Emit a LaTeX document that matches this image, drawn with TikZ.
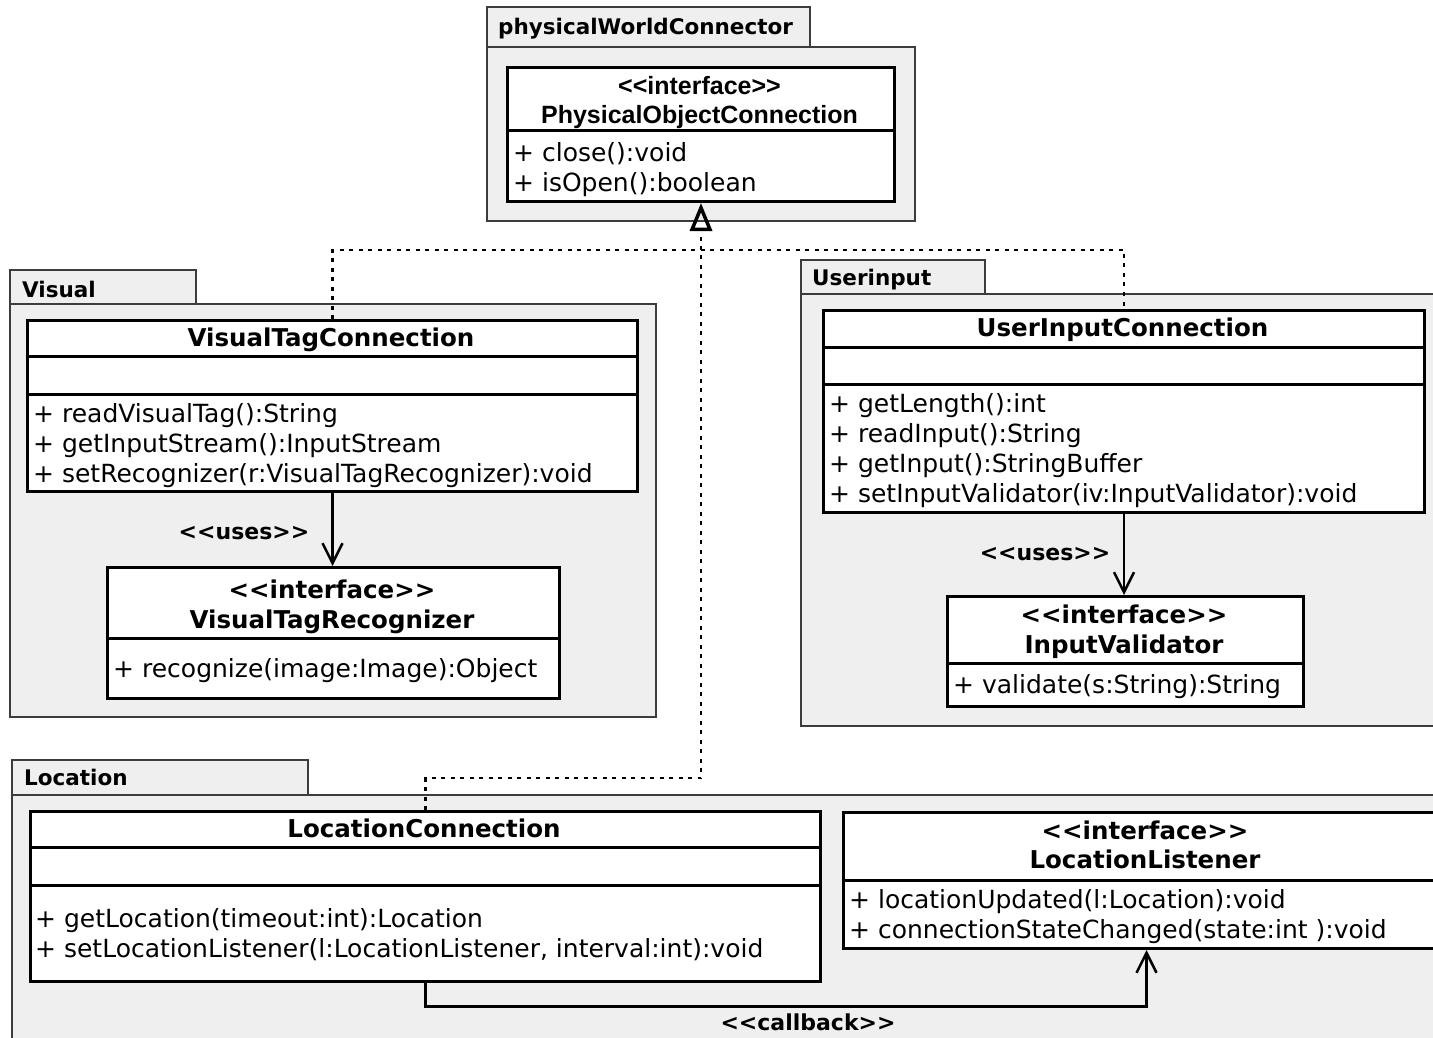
\documentclass[tikz,border=0pt]{standalone}
\usepackage{fontspec}
\setmainfont{DejaVu Sans}
\newfontfamily\headfont{Liberation Sans}
\usetikzlibrary{arrows.meta}

\definecolor{pkgfill}{RGB}{239,239,239}
\definecolor{pkgline}{RGB}{60,60,60}

% stereotype brackets, kept apart so no guillemet ligature forms
\newcommand\ster[1]{<\kern0pt<#1>\kern0pt>}

\begin{document}
\begin{tikzpicture}[x=1pt,y=-1pt,
  pkg/.style={draw=pkgline, fill=pkgfill, line width=2pt},
  pkgname/.style={anchor=mid west, inner sep=0pt, yshift=-3pt,
    font=\fontsize{21.5}{24}\selectfont\bfseries},
  classbox/.style={draw=black, fill=white, line width=3pt,
    anchor=north west, inner sep=0pt},
  divline/.style={draw=black, line width=3pt},
  member/.style={anchor=mid west, inner sep=0pt, yshift=-4pt,
    font=\fontsize{25}{28}\selectfont},
  cname/.style={anchor=mid, inner sep=0pt, yshift=-4pt,
    font=\fontsize{24.5}{28}\selectfont\bfseries},
  hname/.style={anchor=mid, inner sep=0pt, yshift=-4pt,
    font=\headfont\fontsize{25}{28}\selectfont\bfseries},
  lbl/.style={anchor=mid, inner sep=0pt, yshift=-4pt,
    font=\fontsize{22}{26}\selectfont\bfseries},
  realize/.style={draw=black, line width=2.8pt, dash pattern=on 4pt off 5.5pt},
  gentip/.style={-{Triangle[open, length=28pt, width=22pt, line width=3.5pt]}},
  depend/.style={draw=black, line width=2.5pt,
    -{Straight Barb[length=20pt, width=20pt, line width=2.5pt]}},
]
\useasboundingbox (0,0) rectangle (1433,1038);
\clip (0,0) rectangle (1433,1038);
\fill[white] (0,0) rectangle (1433,1038);

% ---------- packages ----------
\path[pkg] (487,7) rectangle (810,47);
\path[pkg] (487,47) rectangle (915,221);
\node[pkgname] (pwc-label) at (498,29) {physicalWorldConnector};

\path[pkg] (10,270) rectangle (196,304);
\path[pkg] (10,304) rectangle (656,717);
\node[pkgname] (vis-label) at (22,292) {Visual};

\path[pkg] (801,260) rectangle (985,294);
\path[pkg] (801,294) rectangle (1445,726);
\node[pkgname] (ui-label) at (812,280) {Userinput};

\path[pkg] (12,760) rectangle (308,795);
\path[pkg] (12,795) rectangle (1460,1060);
\node[pkgname] (loc-label) at (24,780) {Location};

% ---------- PhysicalObjectConnection ----------
\node[classbox, minimum width=387pt, minimum height=134pt] (poc) at (506,66) {};
\draw[divline] ([yshift=-65pt]poc.north west) -- ([yshift=-65pt]poc.north east);
\node[hname] (poc-st) at (699.5,88) {\ster{interface}};
\node[hname] (poc-nm) at (699.5,117) {PhysicalObjectConnection};
\node[member] (poc-m1) at (513,155) {+ close():void};
\node[member] (poc-m2) at (513,185) {+ isOpen():boolean};

% ---------- VisualTagConnection ----------
\node[classbox, minimum width=610pt, minimum height=171pt] (vtc) at (26,319) {};
\draw[divline] ([yshift=-37pt]vtc.north west) -- ([yshift=-37pt]vtc.north east);
\draw[divline] ([yshift=-75pt]vtc.north west) -- ([yshift=-75pt]vtc.north east);
\node[cname] (vtc-nm) at (331,340) {VisualTagConnection};
\node[member] (vtc-m1) at (33,416) {+ readVisualTag():String};
\node[member] (vtc-m2) at (33,446) {+ getInputStream():InputStream};
\node[member] (vtc-m3) at (33,476) {+ setRecognizer(r:VisualTagRecognizer):void};

% ---------- VisualTagRecognizer ----------
\node[classbox, minimum width=452pt, minimum height=131pt] (vtr) at (106,566) {};
\draw[divline] ([yshift=-72pt]vtr.north west) -- ([yshift=-72pt]vtr.north east);
\node[cname] (vtr-st) at (332,592) {\ster{interface}};
\node[cname] (vtr-nm) at (332,622) {VisualTagRecognizer};
\node[member] (vtr-m1) at (113,671) {+ recognize(image:Image):Object};

% ---------- UserInputConnection ----------
\node[classbox, minimum width=601pt, minimum height=202pt] (uic) at (822,309) {};
\draw[divline] ([yshift=-38pt]uic.north west) -- ([yshift=-38pt]uic.north east);
\draw[divline] ([yshift=-75pt]uic.north west) -- ([yshift=-75pt]uic.north east);
\node[cname] (uic-nm) at (1122.5,330) {UserInputConnection};
\node[member] (uic-m1) at (829,406) {+ getLength():int};
\node[member] (uic-m2) at (829,436) {+ readInput():String};
\node[member] (uic-m3) at (829,466) {+ getInput():StringBuffer};
\node[member] (uic-m4) at (829,496) {+ setInputValidator(iv:InputValidator):void};

% ---------- InputValidator ----------
\node[classbox, minimum width=356pt, minimum height=110pt] (iv) at (946,595) {};
\draw[divline] ([yshift=-68pt]iv.north west) -- ([yshift=-68pt]iv.north east);
\node[cname] (iv-st) at (1124,617) {\ster{interface}};
\node[cname] (iv-nm) at (1124,647) {InputValidator};
\node[member] (iv-m1) at (953,687) {+ validate(s:String):String};

% ---------- LocationConnection ----------
\node[classbox, minimum width=790pt, minimum height=170pt] (lc) at (29,810) {};
\draw[divline] ([yshift=-37pt]lc.north west) -- ([yshift=-37pt]lc.north east);
\draw[divline] ([yshift=-75pt]lc.north west) -- ([yshift=-75pt]lc.north east);
\node[cname] (lc-nm) at (424,831) {LocationConnection};
\node[member] (lc-m1) at (35,921) {+ getLocation(timeout:int):Location};
\node[member] (lc-m2) at (35,951) {+ setLocationListener(l:LocationListener, interval:int):void};

% ---------- LocationListener ----------
\node[classbox, minimum width=606pt, minimum height=136pt] (ll) at (842,811) {};
\draw[divline] ([yshift=-69pt]ll.north west) -- ([yshift=-69pt]ll.north east);
\node[cname] (ll-st) at (1145,833) {\ster{interface}};
\node[cname] (ll-nm) at (1145,862) {LocationListener};
\node[member] (ll-m1) at (849,902) {+ locationUpdated(l:Location):void};
\node[member] (ll-m2) at (849,932) {+ connectionStateChanged(state:int ):void};

% ---------- realizations ----------
\coordinate (hub) at ([yshift=-47pt]poc.south);
\coordinate (bend) at ([yshift=-575pt]poc.south);
\draw[realize] (vtc.north) |- (hub) -| (uic.north);
\draw[realize] (lc.north) |- (bend) -- (hub);
\draw[realize, gentip] (hub) -- (poc.south);

% ---------- dependencies ----------
\draw[depend] (vtc.south) -- (vtr.north -| vtc.south);
\node[lbl] (uses1) at (244,533) {\ster{uses}};
\draw[depend] (uic.south) -- (iv.north -| uic.south);
\node[lbl] (uses2) at (1045,554) {\ster{uses}};
\draw[depend, line width=3pt] (lc.south) -- ++(0,23) -| (ll.south);
\node[lbl] (cb) at (808,1024) {\ster{callback}};
\end{tikzpicture}
\end{document}
